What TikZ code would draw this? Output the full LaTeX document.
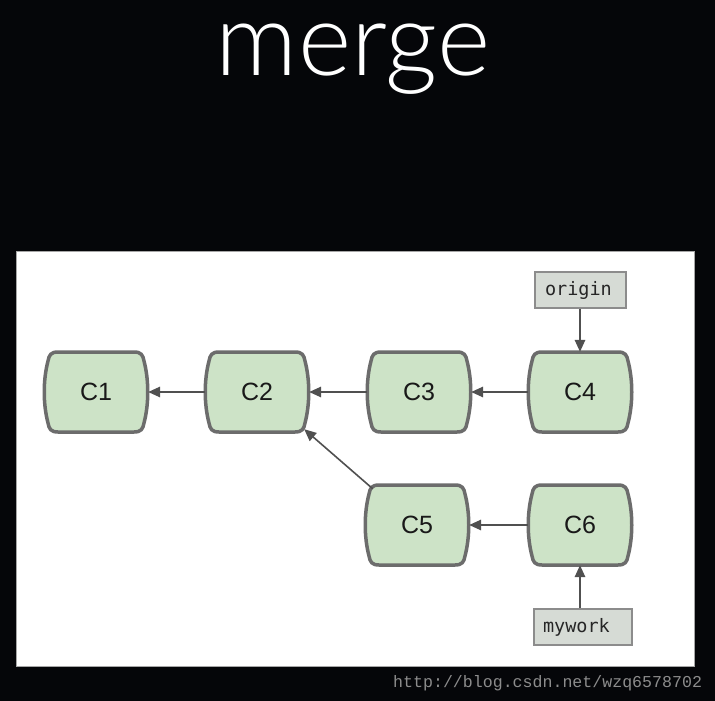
\documentclass[tikz,border=0pt]{standalone}
\usepackage{fontspec}
\setmainfont{Liberation Sans}
\newfontfamily\titlefont{Lato Light}
\newfontfamily\labelmono{DejaVu Sans Mono}
\newfontfamily\urlfont{Liberation Mono}
\usetikzlibrary{arrows.meta,backgrounds,calc}

\definecolor{pagebg}{RGB}{5,6,9}
\definecolor{commitfill}{RGB}{205,227,199}
\definecolor{commitedge}{RGB}{108,108,108}
\definecolor{reffill}{RGB}{214,219,213}
\definecolor{refedge}{RGB}{140,140,140}
\definecolor{arrowgray}{RGB}{80,80,80}
\definecolor{urlgray}{RGB}{140,140,140}

\tikzset{
  commit/.style={minimum width=104pt, minimum height=80pt, inner sep=0pt,
    text=black!90, font=\fontsize{25}{25}\selectfont},
  commitbody/.style={fill=commitfill, draw=commitedge, line width=3.5pt},
  refbox/.style={fill=reffill, draw=refedge, line width=1.3pt, minimum height=36pt,
    inner ysep=0pt, align=left, text=black!85, font=\labelmono\fontsize{18.5}{18.5}\selectfont},
  parent/.style={draw=arrowgray, line width=1.6pt, -{Triangle[length=12pt,width=10.5pt]}},
}

\begin{document}
\begin{tikzpicture}[x=1pt, y=-1pt]
  \useasboundingbox (0,0) rectangle (715,701);

  % title
  \node[anchor=base, text=white, inner sep=0pt, text height=56pt, text depth=22pt,
        font=\titlefont\fontsize{102}{102}\selectfont] (title) at (353,75) {merge};

  % commits
  \node[commit] (C1) at (96,392) {C1};
  \node[commit] (C2) at (257,392) {C2};
  \node[commit] (C3) at (419,392) {C3};
  \node[commit] (C4) at (580,392) {C4};
  \node[commit] (C5) at (417,525) {C5};
  \node[commit] (C6) at (580,525) {C6};

  % branch references
  \node[refbox, text width=71pt, inner xsep=10pt] (origin) at (580.5,290) {origin};
  \node[refbox, text width=80pt, inner xsep=9pt] (mywork) at (583,627) {mywork};

  % watermark
  \node[anchor=base west, inner sep=0pt, text=urlgray,
        font=\urlfont\fontsize{16.6}{16.6}\selectfont] (url) at (393,687)
        {http://blog.csdn.net/wzq6578702};

  \begin{scope}[on background layer]
    \fill[pagebg] (0,0) rectangle (715,701);
    \filldraw[fill=white, draw=gray!70, line width=0.8pt] (16.5,251.5) rectangle (694,666);
    \foreach \n in {C1,C2,C3,C4,C5,C6}
      \draw[commitbody, shift={(\n.center)}]
        (-38,-40) -- (38,-40)
        .. controls (45,-40) and (47,-37) .. (48,-31)
        .. controls (53,-12) and (53,12) .. (48,31)
        .. controls (47,37) and (45,40) .. (38,40)
        -- (-38,40)
        .. controls (-45,40) and (-47,37) .. (-48,31)
        .. controls (-53,12) and (-53,-12) .. (-48,-31)
        .. controls (-47,-37) and (-45,-40) .. (-38,-40) -- cycle;
  \end{scope}

  % parent links
  \draw[parent] (C2.west) -- (C1.east);
  \draw[parent] (C3.west) -- (C2.east);
  \draw[parent] (C4.west) -- (C3.east);
  \draw[parent] (C6.west) -- (C5.east);
  \draw[parent] ($(C5.north west)+(8,4)$) -- ($(C2.south east)+(-5,-3)$);
  \draw[parent] (origin.south -| C4) -- (C4.north);
  \draw[parent] (mywork.north -| C6) -- (C6.south);
\end{tikzpicture}
\end{document}
